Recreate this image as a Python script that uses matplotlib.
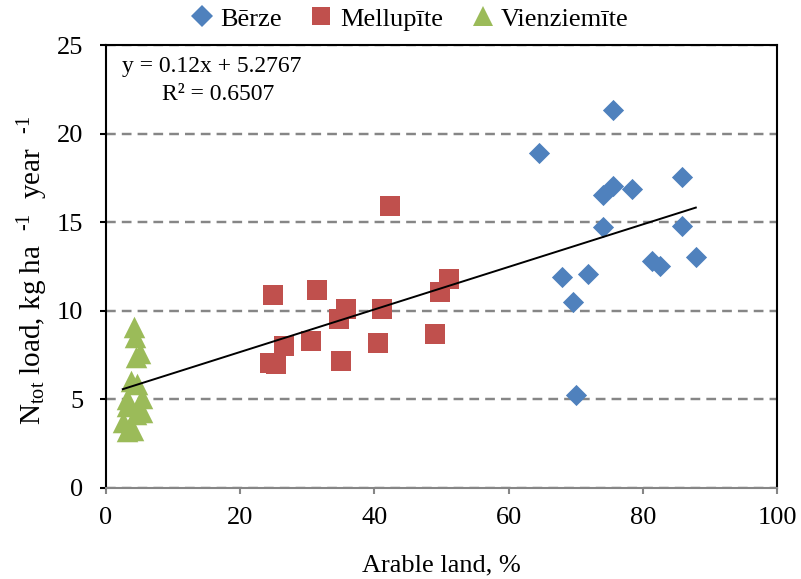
import matplotlib
matplotlib.use("Agg")
import matplotlib.pyplot as plt
from matplotlib.lines import Line2D
import numpy as np

plt.rcParams['font.family'] = ['Liberation Serif', 'DejaVu Serif']
plt.rcParams['mathtext.fontset'] = 'custom'
plt.rcParams['mathtext.rm'] = 'Liberation Serif'
plt.rcParams['mathtext.it'] = 'Liberation Serif:italic'

# ---- data ----
berze_x = [75.6, 64.5, 85.8, 74.0, 75.6, 78.4, 74.0, 85.8, 87.9, 81.4, 82.6, 68.0, 71.8, 69.6, 70.0]
berze_y = [21.33, 18.89, 17.53, 16.53, 17.06, 16.89, 14.75, 14.79, 13.05, 12.83, 12.55, 11.89, 12.09, 10.50, 5.25]

mellupite_x = [42.3, 24.9, 31.5, 35.7, 34.7, 41.1, 49.8, 51.1, 26.5, 30.6, 24.4, 25.4, 35.0, 40.6, 49.0]
mellupite_y = [15.91, 10.87, 11.16, 10.08, 9.52, 10.08, 11.04, 11.79, 8.03, 8.28, 7.07, 7.01, 7.18, 8.20, 8.69]

vienz_x = [4.1, 4.3, 5.0, 4.5, 3.8, 4.6, 5.3, 3.1, 3.2, 5.3, 4.4, 2.5, 3.6, 3.1, 4.0]
vienz_y = [9.1, 8.5, 7.6, 7.4, 6.05, 5.85, 5.1, 5.0, 4.6, 4.3, 4.2, 3.7, 3.5, 3.2, 3.3]

series_names = ['Bērze', 'Mellupīte', 'Vienziemīte']
series_colors = ['#4F81BD', '#C0504D', '#9BBB59']

trend_slope = 0.12
trend_intercept = 5.2767
eq_text = 'y = 0.12x + 5.2767'
r2_text = 'R² = 0.6507'

x_ticks = [0, 20, 40, 60, 80, 100]
y_ticks = [0, 5, 10, 15, 20, 25]

# ---- figure ----
W, H = 801, 579
fig = plt.figure(figsize=(W / 100, H / 100), dpi=100)
ax = fig.add_axes([106 / W, 1 - 488 / H, 671 / W, 443 / H])

ms_d, ms_s, ms_t = 10.8, 14.2, 15.5
ax.scatter(berze_x, berze_y, marker='D', s=ms_d ** 2, color=series_colors[0], linewidths=0, zorder=3)
ax.scatter(mellupite_x, mellupite_y, marker='s', s=ms_s ** 2, color=series_colors[1], linewidths=0, zorder=3)
ax.scatter(vienz_x, vienz_y, marker='^', s=ms_t ** 2, color=series_colors[2], linewidths=0, zorder=3)

all_x = np.array(berze_x + mellupite_x + vienz_x)
tx = np.array([all_x.min(), all_x.max()])
ax.plot(tx, trend_slope * tx + trend_intercept, color='black', lw=1.4, zorder=4)

ax.set_xlim(0, 100)
ax.set_ylim(0, 25)
ax.set_xticks(x_ticks)
ax.set_yticks(y_ticks)

ax.yaxis.grid(True, linestyle=(0, (4, 2.5)), color='#868686', lw=1.75)
ax.set_axisbelow(True)

for side in ['left', 'top', 'right']:
    ax.spines[side].set_color('black')
    ax.spines[side].set_linewidth(1.5)
ax.spines['bottom'].set_color('#868686')
ax.spines['bottom'].set_linewidth(1.5)

ax.tick_params(axis='y', direction='out', length=4.3, width=1.5, color='black',
               labelsize=19, pad=12)
ax.tick_params(axis='x', direction='out', length=4.3, width=1.5, color='#868686',
               labelcolor='black', labelsize=19, pad=9.5)

ax.set_xlabel('Arable land, %', fontsize=19)
ax.xaxis.set_label_coords(0.5, -0.15)
ax.set_ylabel(r'N$_{\mathrm{tot}}$ load, kg ha  $^{\text{-1}}$  year  $^{\text{-1}}$', fontsize=21)
ax.yaxis.set_label_coords(-0.083, 0.49)

ax.text(0.0238, 0.939, eq_text, transform=ax.transAxes, fontsize=17, ha='left', va='baseline')
ax.text(0.0835, 0.876, r2_text, transform=ax.transAxes, fontsize=17, ha='left', va='baseline')

handles = [
    Line2D([], [], marker='D', linestyle='none', markersize=ms_d, color=series_colors[0], markeredgewidth=0),
    Line2D([], [], marker='s', linestyle='none', markersize=ms_s * 0.9, color=series_colors[1], markeredgewidth=0),
    Line2D([], [], marker='^', linestyle='none', markersize=ms_t * 0.9, color=series_colors[2], markeredgewidth=0),
]
fig.legend(handles, series_names, loc='center', bbox_to_anchor=(410 / W, 1 - 19 / H),
           ncol=3, frameon=False, fontsize=19, handlelength=0.8, handletextpad=0.3,
           columnspacing=1.1, borderaxespad=0, borderpad=0)

fig.savefig('out.png', dpi=100)
